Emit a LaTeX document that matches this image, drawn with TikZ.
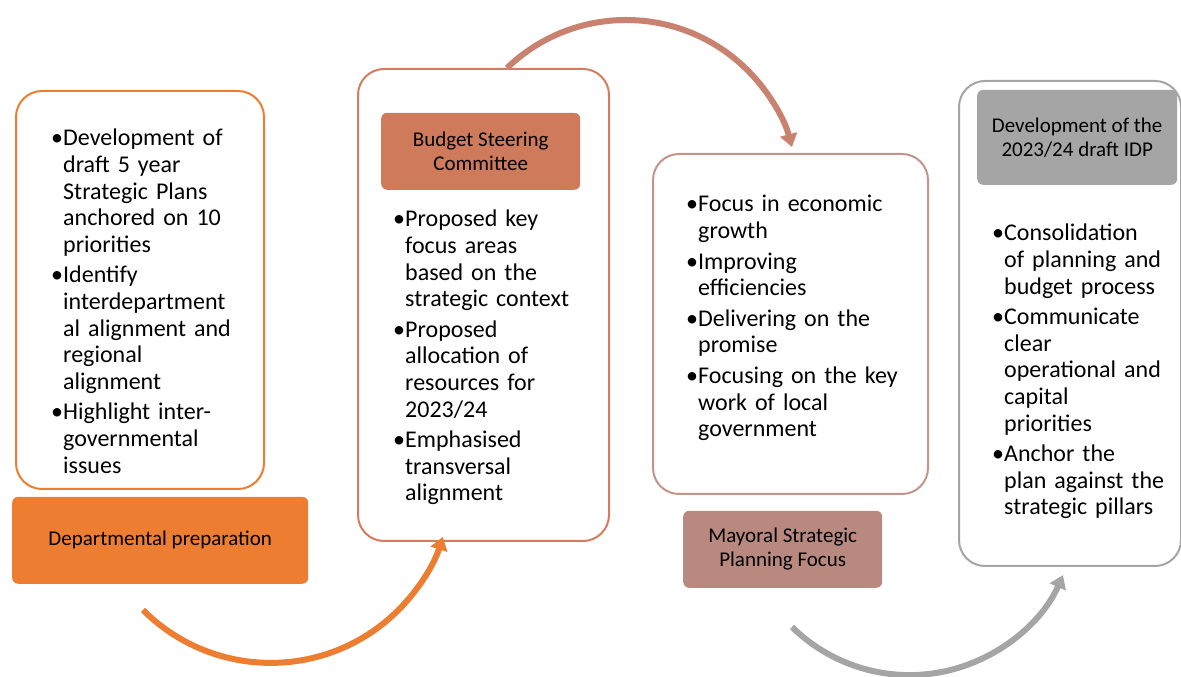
\documentclass[tikz,border=0pt]{standalone}
\usepackage{fontspec}
\setmainfont{Carlito}
\usetikzlibrary{arrows.meta}

\definecolor{deptOrange}{HTML}{ED7D31}
\definecolor{budgetLine}{HTML}{D47C5D}
\definecolor{budgetFill}{HTML}{D07A5C}
\definecolor{budgetArrow}{HTML}{C8826F}
\definecolor{mayorLine}{HTML}{C3948A}
\definecolor{mayorFill}{HTML}{B9887F}
\definecolor{idpGrey}{HTML}{A5A5A5}

% bullet item with hanging indent
\newcommand{\bul}{\hangindent=12pt\hangafter=1\makebox[12pt][l]{\textbullet}}

\begin{document}
\begin{tikzpicture}[x=1pt,y=1pt,
  panel/.style={draw, line width=2pt, rounded corners=26pt, fill=white,
    anchor=south west, inner sep=0pt},
  tag/.style={rounded corners=6pt, inner sep=0pt, anchor=south west,
    font=\fontsize{21}{24}\selectfont, align=center, text=black},
  items/.style={anchor=base west, inner sep=0pt, text width=240pt,
    font=\fontsize{24}{26.6}\selectfont, align=left},
  flow/.style={line width=6pt, -{Triangle[length=13pt,width=17pt]}}
]
\useasboundingbox (0,0) rectangle (1181,677);

% ---- panels ----
\node[panel, draw=deptOrange, minimum width=248pt, minimum height=398pt] (p1) at (15,187) {};
\node[panel, draw=budgetLine, minimum width=251pt, minimum height=472pt] (p2) at (357,135) {};
\node[panel, draw=mayorLine, minimum width=275pt, minimum height=340pt] (p3) at (652,182) {};
\node[panel, draw=idpGrey, minimum width=222pt, minimum height=485pt] (p4) at (958,110) {};

% ---- stage labels ----
\node[tag, fill=deptOrange, minimum width=296pt, minimum height=87pt] (t1) at (12,93) {Departmental preparation};
\node[tag, fill=budgetFill, minimum width=199pt, minimum height=77pt] (t2) at (381,487) {Budget Steering\\Committee};
\node[tag, fill=mayorFill, minimum width=199pt, minimum height=77pt] (t3) at (683,89) {Mayoral Strategic\\Planning Focus};
\node[tag, fill=idpGrey, minimum width=200pt, minimum height=95pt] (t4) at (977,492) {Development of the\\2023/24 draft IDP};

% ---- bullet lists ----
\node[items] (l1) at (51,531) {\setlength{\parskip}{4pt}%
\bul Development of\newline draft 5 year\newline Strategic Plans\newline anchored on 10\newline priorities\par
\bul Identify\newline interdepartment\newline al alignment and\newline regional\newline alignment\par
\bul Highlight inter-\newline governmental\newline issues\par};

\node[items] (l2) at (393,450) {\setlength{\parskip}{4pt}%
\bul Proposed key\newline focus areas\newline based on the\newline strategic context\par
\bul Proposed\newline allocation of\newline resources for\newline 2023/24\par
\bul Emphasised\newline transversal\newline alignment\par};

\node[items] (l3) at (686,465) {\setlength{\parskip}{4pt}%
\bul Focus in economic\newline growth\par
\bul Improving\newline efficiencies\par
\bul Delivering on the\newline promise\par
\bul Focusing on the key\newline work of local\newline government\par};

\node[items] (l4) at (992,436) {\setlength{\parskip}{4pt}%
\bul Consolidation\newline of planning and\newline budget process\par
\bul Communicate\newline clear\newline operational and\newline capital\newline priorities\par
\bul Anchor the\newline plan against the\newline strategic pillars\par};

% ---- curved flow arrows ----
\coordinate (s1) at (143,67);
\coordinate (s2) at (507,609);
\coordinate (s3) at (792,50);
\draw[flow, deptOrange] (s1) arc[start angle=225, end angle=342.4, radius=180.6pt];
\draw[flow, budgetArrow] (s2) arc[start angle=133.9, end angle=15.1, radius=171.8pt];
\draw[flow, idpGrey] (s3) arc[start angle=225.5, end angle=336.2, radius=167.7pt];
\end{tikzpicture}
\end{document}
